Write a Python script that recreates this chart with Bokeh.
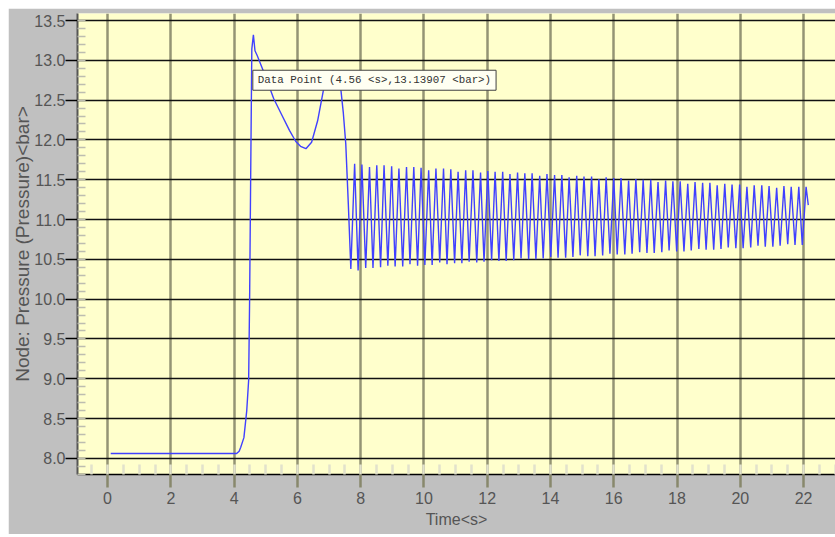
from bokeh.plotting import figure
from bokeh.models import Range1d, SingleIntervalTicker, PrintfTickFormatter, Label
from bokeh.embed import file_html
from bokeh.resources import INLINE

# ---- data ----
# start-up transient: time [s], pressure [bar]
pre_t = [0.10, 4.08, 4.16, 4.21, 4.31, 4.40, 4.46, 4.49, 4.52, 4.56,
         4.61, 4.66, 4.73, 5.00, 5.25, 5.50, 5.75, 5.95, 6.10, 6.27,
         6.45, 6.64, 6.84, 6.98, 7.12, 7.25, 7.37, 7.45, 7.53, 7.61]
pre_p = [8.06, 8.06, 8.09, 8.14, 8.26, 8.60, 8.98, 9.98, 11.36, 13.14,
         13.32, 13.12, 13.06, 12.79, 12.52, 12.32, 12.12, 11.98, 11.92, 11.89,
         11.97, 12.24, 12.66, 12.82, 12.87, 12.80, 12.65, 12.35, 11.95, 11.20]

# oscillation: alternating troughs / peaks
osc_t = [7.69, 7.81, 7.92, 8.04, 8.16, 8.28, 8.39, 8.51, 8.63, 8.74,
         8.86, 8.98, 9.09, 9.21, 9.33, 9.45, 9.56, 9.68, 9.80, 9.91,
         10.03, 10.15, 10.26, 10.38, 10.50, 10.62, 10.73, 10.85, 10.97, 11.08,
         11.20, 11.32, 11.43, 11.55, 11.67, 11.79, 11.90, 12.02, 12.14, 12.25,
         12.37, 12.49, 12.60, 12.72, 12.84, 12.96, 13.07, 13.19, 13.31, 13.42,
         13.54, 13.66, 13.77, 13.89, 14.01, 14.13, 14.24, 14.36, 14.48, 14.59,
         14.71, 14.83, 14.94, 15.06, 15.18, 15.30, 15.41, 15.53, 15.65, 15.76,
         15.88, 16.00, 16.11, 16.23, 16.35, 16.47, 16.58, 16.70, 16.82, 16.93,
         17.05, 17.17, 17.28, 17.40, 17.52, 17.64, 17.75, 17.87, 17.99, 18.10,
         18.22, 18.34, 18.45, 18.57, 18.69, 18.81, 18.92, 19.04, 19.16, 19.27,
         19.39, 19.51, 19.62, 19.74, 19.86, 19.98, 20.09, 20.21, 20.33, 20.44,
         20.56, 20.68, 20.79, 20.91, 21.03, 21.15, 21.26, 21.38, 21.50, 21.61,
         21.73, 21.85, 21.96, 22.08, 22.15]
osc_p = [10.38, 11.70, 10.36, 11.69, 10.39, 11.66, 10.39, 11.68, 10.40, 11.68,
         10.42, 11.67, 10.41, 11.64, 10.41, 11.66, 10.44, 11.66, 10.42, 11.65,
         10.43, 11.62, 10.43, 11.64, 10.46, 11.64, 10.44, 11.63, 10.45, 11.60,
         10.45, 11.62, 10.47, 11.62, 10.46, 11.59, 10.47, 11.61, 10.49, 11.60,
         10.48, 11.60, 10.48, 11.57, 10.49, 11.59, 10.51, 11.58, 10.50, 11.58,
         10.50, 11.55, 10.51, 11.57, 10.53, 11.56, 10.52, 11.56, 10.52, 11.53,
         10.53, 11.55, 10.55, 11.54, 10.54, 11.54, 10.54, 11.51, 10.55, 11.53,
         10.57, 11.52, 10.56, 11.52, 10.56, 11.49, 10.57, 11.51, 10.59, 11.50,
         10.58, 11.50, 10.58, 11.47, 10.59, 11.49, 10.61, 11.48, 10.60, 11.48,
         10.60, 11.45, 10.61, 11.47, 10.63, 11.46, 10.62, 11.46, 10.62, 11.43,
         10.63, 11.45, 10.65, 11.44, 10.64, 11.44, 10.64, 11.41, 10.65, 11.43,
         10.67, 11.43, 10.66, 11.42, 10.66, 11.40, 10.67, 11.42, 10.69, 11.41,
         10.68, 11.41, 10.68, 11.41, 11.18]

# highlighted data point (tooltip)
marker_t = 4.56
marker_p = 13.13907
marker_text = "Data Point (4.56 <s>,13.13907 <bar>)"

x_title = "Time<s>"
y_title = "Node: Pressure (Pressure)<bar>"

time = pre_t + osc_t
pressure = pre_p + osc_p

# ---- figure ----
p = figure(width=827, height=526, output_backend="svg", toolbar_location=None,
           x_range=Range1d(-0.95, 23.01), y_range=Range1d(7.797, 13.588),
           min_border_left=69, min_border_right=0, min_border_top=5,
           min_border_bottom=60, margin=(8, 0, 0, 8))
p.background_fill_color = "#ffffcc"
p.border_fill_color = "#c0c0c0"
p.outline_line_color = None

p.line(time, pressure, line_color="#4040ff", line_width=1.4)

# x axis
xa = p.xaxis[0]
xa.ticker = SingleIntervalTicker(interval=2, num_minor_ticks=4)
xa.axis_line_color = "black"
xa.axis_line_width = 1.5
xa.major_tick_line_color = "#88886c"
xa.major_tick_line_width = 2.5
xa.major_tick_out = 13
xa.major_tick_in = 0
xa.minor_tick_line_color = "#e2e2cc"
xa.minor_tick_line_width = 2.5
xa.minor_tick_in = 10
xa.minor_tick_out = 0
xa.major_label_text_font = "Liberation Sans"
xa.major_label_text_font_size = "16px"
xa.major_label_text_color = "#555555"
xa.major_label_standoff = 4
xa.axis_label = x_title
xa.axis_label_text_font = "Liberation Sans"
xa.axis_label_text_font_size = "16px"
xa.axis_label_text_font_style = "normal"
xa.axis_label_text_color = "#555555"
xa.axis_label_standoff = 4

# y axis
ya = p.yaxis[0]
ya.ticker = SingleIntervalTicker(interval=0.5, num_minor_ticks=5)
ya.formatter = PrintfTickFormatter(format="%.1f")
ya.axis_line_color = "#555555"
ya.axis_line_width = 2
ya.major_tick_line_color = "black"
ya.major_tick_line_width = 1.5
ya.major_tick_out = 12
ya.major_tick_in = 0
ya.minor_tick_line_color = "#bdbdb0"
ya.minor_tick_line_width = 1.5
ya.minor_tick_in = 8
ya.minor_tick_out = 0
ya.major_label_text_font = "Liberation Sans"
ya.major_label_text_font_size = "16px"
ya.major_label_text_color = "#555555"
ya.major_label_standoff = 0
ya.axis_label = y_title
ya.axis_label_text_font = "Liberation Sans"
ya.axis_label_text_font_size = "19px"
ya.axis_label_text_font_style = "normal"
ya.axis_label_text_color = "#555555"
ya.axis_label_text_line_height = 0.4
ya.axis_label_standoff = -2

# grids
p.xgrid.grid_line_color = "#88886c"
p.xgrid.grid_line_width = 2.5
p.xgrid.grid_line_alpha = 0.9
p.ygrid.grid_line_color = "#111111"
p.ygrid.grid_line_width = 1.5

# tooltip box with shadow
shadow = Label(x=marker_t, y=marker_p, x_offset=4, y_offset=-24, text=marker_text,
               text_font="Liberation Mono", text_font_size="10.8px", text_alpha=0,
               text_baseline="top", background_fill_color="#707070",
               padding=(5, 4))
box = Label(x=marker_t, y=marker_p, x_offset=1, y_offset=-21, text=marker_text,
            text_font="Liberation Mono", text_font_size="10.8px", text_color="#333333",
            text_baseline="top", background_fill_color="#fffff2",
            border_line_color="#404040", border_line_width=1, padding=(5, 4))
p.add_layout(shadow)
p.add_layout(box)

open("out.html", "w").write(file_html(p, INLINE))
